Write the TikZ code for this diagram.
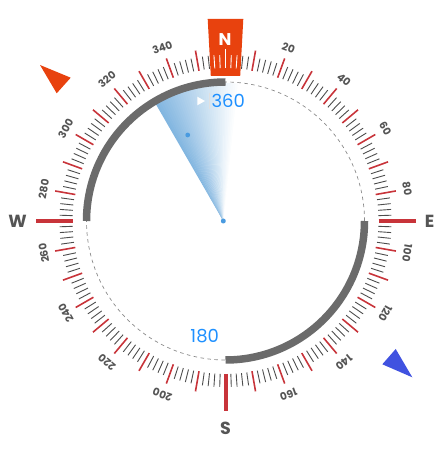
\documentclass[tikz,border=0pt]{standalone}
\usepackage{fontspec}
\setmainfont{Poppins}
\definecolor{dialgrey}{HTML}{6B6B6B}
\definecolor{tickred}{HTML}{C8343A}
\definecolor{minorgrey}{HTML}{4D4D4D}
\definecolor{labelgrey}{HTML}{555555}
\definecolor{northred}{HTML}{E8420E}
\definecolor{needleblue}{HTML}{4052E0}
\definecolor{headblue}{HTML}{1E90FF}
\definecolor{wedgeblue}{HTML}{82B6E0}
\definecolor{dotblue}{HTML}{4A9BE0}
\definecolor{dashgrey}{HTML}{8A8A8A}
\begin{document}
\begin{tikzpicture}[x=1pt,y=1pt,
  minortick/.style={draw=minorgrey, line width=0.9pt},
  majortick/.style={draw=tickred, line width=1.6pt},
  cardtick/.style={draw=tickred, line width=4pt},
  whitetick/.style={draw=white, line width=0.9pt},
  greyarc/.style={draw=dialgrey, line width=7.5pt},
  dashring/.style={draw=dashgrey, line width=0.7pt, dash pattern=on 3.5pt off 3.5pt},
  deglabel/.style={font=\bfseries\fontsize{10.5}{11}\selectfont, text=labelgrey, inner sep=0pt},
  cardlabel/.style={font=\bfseries\fontsize{17.5}{18}\selectfont, text=labelgrey, inner sep=0pt},
  northlabel/.style={font=\bfseries\fontsize{17}{17}\selectfont, text=white, inner sep=0pt},
  headlabel/.style={font=\fontsize{18}{18}\selectfont, text=headblue, inner sep=0pt},
]
\useasboundingbox (0,0) rectangle (446,452);
\begin{scope}[shift={(225.5,231)}]
  % heading wedge (angular gradient)
  \foreach \i in {0,...,37}{
    \pgfmathsetmacro\p{max(0,100-\i*100/36)}
    \fill[wedgeblue!\p!white] (-2.2,0) -- +({-240-\i}:138) -- +({-241.3-\i}:138) -- cycle;
  }
  % dashed ring
  \draw[dashring] (0,0) circle[radius=139];
  % grey arcs
  \draw[greyarc] (180:139) arc[start angle=180, end angle=90, radius=139];
  \draw[greyarc] (0:139) arc[start angle=0, end angle=-90, radius=139];
  % minor ticks
  \foreach \d in {0,10,...,350}{
    \foreach \k in {2,4,6,8}{
      \pgfmathsetmacro\a{90-\d-\k}
      \draw[minortick] (\a:153) -- (\a:166);
    }
  }
  % red ten-degree ticks
  \foreach \d in {10,20,...,350}{
    \pgfmathtruncatemacro\m{mod(\d,90)}
    \ifnum\m=0\relax\else
      \draw[majortick] ({90-\d}:152.5) -- ({90-\d}:173);
    \fi
  }
  % cardinal ticks
  \draw[cardtick] (0:153) -- (0:190);
  \draw[cardtick] (-90:153) -- (-90:190);
  \draw[cardtick] (180:153) -- (180:190);
  % north box
  \fill[northred] (-14.7,145) -- (-17.8,202) -- (17.8,202) -- (14.7,145) -- cycle;
  \foreach \b in {-4,-2,2,4}{
    \draw[whitetick] ({90-\b}:153) -- ({90-\b}:166);
  }
  \draw[whitetick] (90:153) -- (90:172);
  \node[northlabel] (north) at (-0.5,181) {N};
  % degree labels
  \foreach \d in {20,40,60,80,100,120,140,160,200,220,240,260,280,300,320,340}{
    \node[deglabel, rotate=-\d] (lab\d) at ({90-\d}:184.5) {\d};
  }
  % cardinal letters
  \node[cardlabel] (east) at (0:204) {E};
  \node[cardlabel] (south) at (-90:207) {S};
  \node[cardlabel] (west) at (180:208) {W};
  % dots
  \fill[dotblue] (-2.2,0) circle[radius=2.5];
  \fill[dotblue] (-37.8,86) circle[radius=2.4];
  % heading marker and values
  \fill[white] (-28.2,124.3) -- (-20.5,120) -- (-28.2,115.7) -- cycle;
  \draw[black!12, line width=0.6pt] (-16.5,128) -- (-16.5,112);
  \node[headlabel] (head) at (2.8,120) {360};
  \node[headlabel] (back) at (-20.8,-114.7) {180};
  % pointer triangles
  \fill[northred] (-185.5,156) -- (-154.8,143.3) -- (-168.8,127.7) -- cycle;
  \fill[needleblue] (156.8,-143.3) -- (170.2,-128) -- (186.8,-156.3) -- cycle;
\end{scope}
\end{tikzpicture}
\end{document}
